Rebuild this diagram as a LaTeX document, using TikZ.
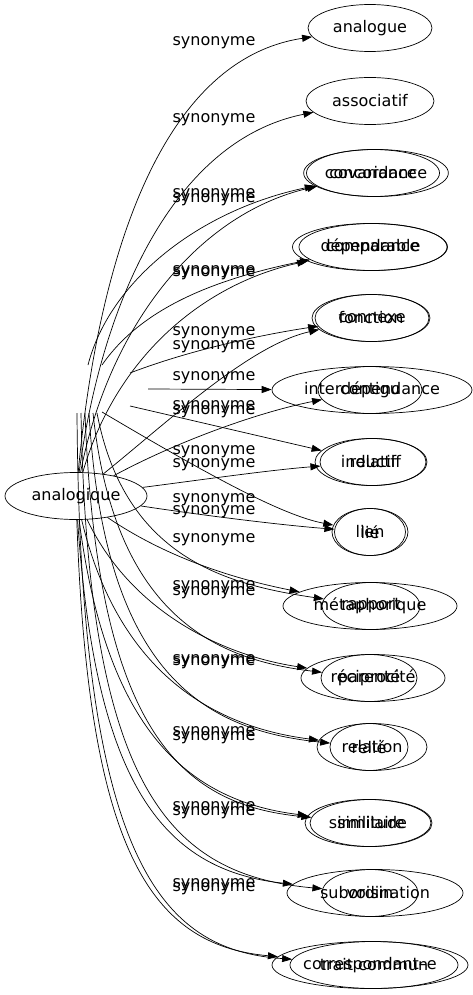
\documentclass[tikz,border=0pt]{standalone}
\usepackage{fontspec}
\setmainfont{DejaVu Sans}
\usetikzlibrary{shapes.geometric,arrows.meta}

\begin{document}
\begin{tikzpicture}[x=1pt,y=-1pt,
  word/.style={ellipse,draw,inner sep=0pt,minimum height=47pt,line width=0.7pt,font=\fontsize{16}{19}\selectfont},
  rel/.style={-{Triangle[length=10pt,width=7pt]},line width=0.7pt},
  lbl/.style={inner sep=0pt,font=\fontsize{16}{19}\selectfont}]
  \useasboundingbox (0,0) rectangle (473,995);

  \node[word,minimum width=142pt] (ana) at (76,496) {analogique};
  \node[word,minimum width=124pt] (an) at (370,28) {analogue};
  \node[word,minimum width=128pt] (as) at (370,101) {associatif};
  \node[word,minimum width=133pt] (cov) at (373,173) {covariance};
  \node[word,minimum width=142pt] (conc) at (376,173) {concordance};
  \node[word,minimum width=155pt] (dep) at (370,247) {dépendance};
  \node[word,minimum width=148pt] (comp) at (373,247) {comparable};
  \node[word,minimum width=118pt] (fon) at (371,318) {fonction};
  \node[word,minimum width=114pt] (cnx) at (372,318) {connexe};
  \node[word,minimum width=200pt] (inter) at (372,390) {interdépendance};
  \node[word,minimum width=104pt] (cont) at (370,390) {contigu};
  \node[word,minimum width=112pt] (ind) at (371,462) {inductif};
  \node[word,minimum width=106pt] (rlf) at (373,462) {relatif};
  \node[word,minimum width=76pt] (lien) at (370,532) {lien};
  \node[word,minimum width=71pt] (lie) at (370,532) {lié};
  \node[word,minimum width=174pt] (meta) at (370,606) {métaphorique};
  \node[word,minimum width=98pt] (rap) at (371,606) {rapport};
  \node[word,minimum width=144pt] (reci) at (373,678) {réciprocité};
  \node[word,minimum width=96pt] (par) at (369,678) {parenté};
  \node[word,minimum width=110pt] (rln) at (372,747) {relation};
  \node[word,minimum width=78pt] (rlie) at (369,747) {relié};
  \node[word,minimum width=126pt] (simt) at (368,823) {similitude};
  \node[word,minimum width=122pt] (sima) at (371,823) {similaire};
  \node[word,minimum width=176pt] (sub) at (375,893) {subordination};
  \node[word,minimum width=96pt] (voi) at (370,893) {voisin};
  \node[word,minimum width=196pt] (corr) at (370,965) {correspondant–e};
  \node[word,minimum width=168pt] (trait) at (374,965) {trait commun};

  \coordinate (b3) at (88,365);
  \coordinate (b4) at (102,365);
  \coordinate (b5) at (130,373);
  \coordinate (b6) at (148,389);
  \coordinate (b7) at (130,406);
  \coordinate (b8) at (102,412);
  \coordinate (b9) at (97,413);
  \coordinate (b10) at (93,413);
  \coordinate (b11) at (89,413);
  \coordinate (b12) at (85,413);
  \coordinate (b13) at (81,413);
  \coordinate (b14) at (77,413);

  \foreach \y in {43,120,195,200,272,274,333,347,378,407,412,452,465,500,512,540,587,593,661,663,733,738,808,813,885,889}
    \node[lbl] (syn\y) at (214,\y) {synonyme};

  \draw[rel] (ana) .. controls (98,260) and (160,60) .. (an);
  \draw[rel] (ana) .. controls (102,300) and (175,140) .. (as);
  \draw[rel] (ana) .. controls (108,330) and (195,215) .. (cov);
  \draw[rel] (b3) .. controls (110,280) and (200,210) .. (conc);
  \draw[rel] (ana) .. controls (115,360) and (200,285) .. (dep);
  \draw[rel] (b4) .. controls (140,310) and (210,280) .. (comp);
  \draw[rel] (ana) .. controls (170,420) and (250,345) .. (fon);
  \draw[rel] (b5) .. controls (190,350) and (260,335) .. (cnx);
  \draw[rel] (b6) -- (inter);
  \draw[rel] (ana) .. controls (180,440) and (260,412) .. (cont);
  \draw[rel] (b7) -- (ind);
  \draw[rel] (ana) .. controls (200,480) and (270,470) .. (rlf);
  \draw[rel] (b8) .. controls (200,470) and (280,515) .. (lien);
  \draw[rel] (ana) .. controls (200,515) and (280,525) .. (lie);
  \draw[rel] (ana) .. controls (170,560) and (240,580) .. (meta);
  \draw[rel] (b9) .. controls (125,560) and (230,585) .. (rap);
  \draw[rel] (ana) .. controls (130,610) and (220,655) .. (reci);
  \draw[rel] (b10) .. controls (115,620) and (220,660) .. (par);
  \draw[rel] (ana) .. controls (115,660) and (200,725) .. (rln);
  \draw[rel] (b11) .. controls (104,670) and (200,730) .. (rlie);
  \draw[rel] (ana) .. controls (105,720) and (180,800) .. (simt);
  \draw[rel] (b12) .. controls (97,730) and (180,805) .. (sima);
  \draw[rel] (ana) .. controls (95,780) and (160,870) .. (sub);
  \draw[rel] (b13) .. controls (88,790) and (170,875) .. (voi);
  \draw[rel] (ana) .. controls (88,850) and (150,945) .. (corr);
  \draw[rel] (b14) .. controls (80,860) and (160,950) .. (trait);
\end{tikzpicture}
\end{document}
